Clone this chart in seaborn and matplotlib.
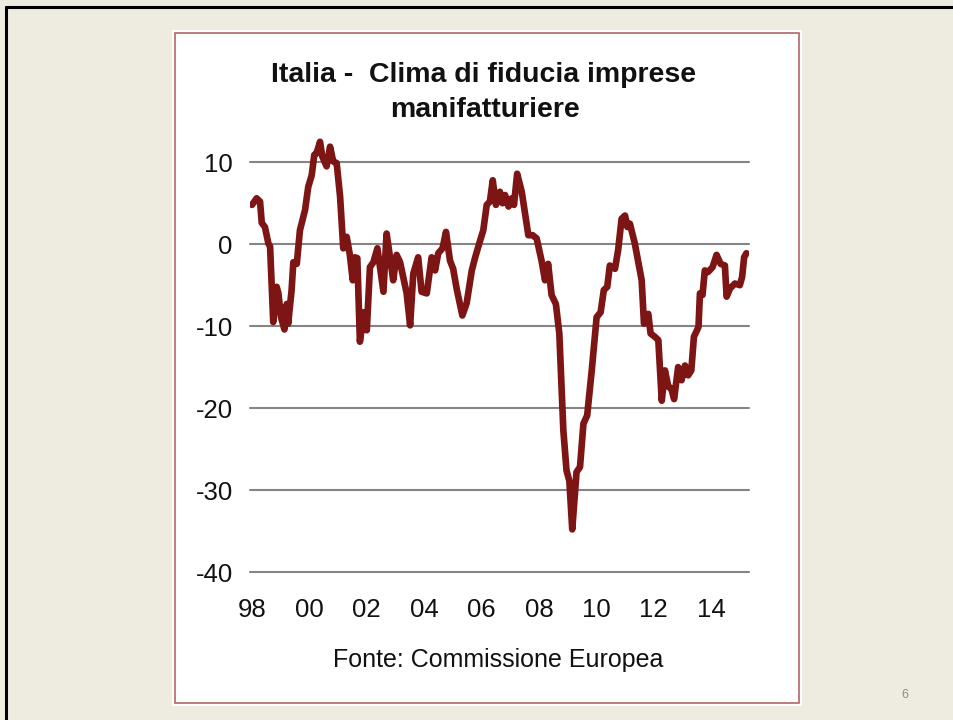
import matplotlib
matplotlib.use("Agg")
import matplotlib.pyplot as plt
import seaborn as sns
from matplotlib.patches import Rectangle
from matplotlib.lines import Line2D

# Clima di fiducia imprese manifatturiere, Italia
anni = [
    1998.00, 1998.16, 1998.28, 1998.34, 1998.45, 1998.57, 1998.63, 1998.74, 1998.86, 1998.92,
    1999.01, 1999.13, 1999.21, 1999.26, 1999.38, 1999.44, 1999.56, 1999.67, 1999.85, 1999.96,
    2000.08, 2000.17, 2000.25, 2000.37, 2000.45, 2000.60, 2000.72, 2000.83, 2000.95, 2001.07,
    2001.18, 2001.30, 2001.41, 2001.51, 2001.59, 2001.67, 2001.76, 2001.90, 2002.00, 2002.11,
    2002.23, 2002.37, 2002.58, 2002.69, 2002.81, 2002.92, 2003.04, 2003.16, 2003.39, 2003.51,
    2003.62, 2003.79, 2003.91, 2004.09, 2004.26, 2004.38, 2004.49, 2004.64, 2004.76, 2004.90,
    2005.01, 2005.13, 2005.33, 2005.48, 2005.66, 2005.77, 2005.92, 2006.06, 2006.18, 2006.29,
    2006.39, 2006.50, 2006.64, 2006.73, 2006.82, 2006.94, 2007.05, 2007.13, 2007.24, 2007.40,
    2007.51, 2007.63, 2007.78, 2007.92, 2008.09, 2008.21, 2008.32, 2008.44, 2008.59, 2008.71,
    2008.85, 2008.96, 2009.06, 2009.16, 2009.31, 2009.43, 2009.55, 2009.68, 2009.84, 2010.01,
    2010.15, 2010.26, 2010.38, 2010.47, 2010.65, 2010.76, 2010.88, 2011.00, 2011.08, 2011.17,
    2011.34, 2011.58, 2011.66, 2011.81, 2011.89, 2012.04, 2012.16, 2012.28, 2012.39, 2012.51,
    2012.61, 2012.71, 2012.85, 2012.97, 2013.09, 2013.20, 2013.31, 2013.40, 2013.56, 2013.61,
    2013.70, 2013.78, 2013.89, 2014.05, 2014.19, 2014.33, 2014.48, 2014.54, 2014.66, 2014.83,
    2015.00, 2015.08, 2015.15, 2015.23,
]
clima = [
    4.8, 5.6, 5.2, 2.6, 2.1, 0.1, -0.3, -9.5, -5.2, -6.0,
    -8.9, -10.4, -7.3, -9.7, -5.6, -2.2, -2.4, 1.7, 4.2, 7.0,
    8.4, 10.9, 11.1, 12.5, 10.7, 9.5, 11.9, 10.1, 9.9, 5.8,
    -0.5, 0.9, -1.3, -4.4, -1.6, -1.7, -11.9, -8.3, -10.5, -2.8,
    -2.2, -0.5, -5.8, 1.3, -1.6, -4.4, -1.3, -2.2, -6.0, -9.9,
    -3.6, -1.6, -5.8, -6.0, -1.6, -3.2, -1.1, -0.5, 1.5, -2.0,
    -3.0, -5.4, -8.7, -7.2, -3.2, -1.7, 0.1, 1.7, 4.8, 5.2,
    7.8, 4.8, 6.4, 5.0, 6.0, 4.6, 5.6, 4.8, 8.6, 6.4,
    3.9, 1.1, 1.1, 0.7, -2.0, -4.4, -2.4, -6.2, -7.3, -10.9,
    -22.7, -27.6, -28.9, -34.8, -27.8, -27.2, -21.9, -20.9, -15.4, -8.9,
    -8.3, -5.6, -5.2, -2.6, -3.0, -0.7, 3.1, 3.5, 2.1, 2.5,
    0.1, -4.4, -9.7, -8.5, -10.9, -11.3, -11.7, -19.1, -15.4, -17.4,
    -17.6, -18.9, -15.0, -16.6, -14.8, -16.0, -15.4, -11.3, -10.1, -6.0,
    -6.2, -3.2, -3.4, -2.8, -1.3, -2.4, -2.6, -6.4, -5.4, -4.8,
    -5.0, -4.0, -1.6, -1.1,
]
tick_anni = [1998, 2000, 2002, 2004, 2006, 2008, 2010, 2012, 2014]
tick_etichette = ["98", "00", "02", "04", "06", "08", "10", "12", "14"]
y_ticks = [10, 0, -10, -20, -30, -40]

W, H = 954, 720
sns.set_theme(style="white")
plt.rcParams["font.family"] = ["Liberation Sans", "DejaVu Sans"]

fig = plt.figure(figsize=(W / 100, H / 100), dpi=100)
fig.patch.set_facecolor("#EEECE1")


def fx(px):
    return px / W


def fy(py):
    return 1 - py / H


# slide border (top + left)
fig.add_artist(Line2D([fx(6), fx(6)], [0, fy(7)], color="black", lw=2.2, zorder=-4))
fig.add_artist(Line2D([fx(6), 1], [fy(7), fy(7)], color="black", lw=2.2, zorder=-4))

# white chart panel with thin red frame
fig.add_artist(Rectangle((fx(172), fy(706)), fx(802) - fx(172), fy(30) - fy(706),
                         facecolor="white", edgecolor="none", zorder=-3))
fig.add_artist(Rectangle((fx(175), fy(703)), fx(799) - fx(175), fy(33) - fy(703),
                         facecolor="none", edgecolor="#B06666", lw=1.2, zorder=-2))

ymax = 14
top_px = 244 - 8.18 * ymax
ax = fig.add_axes([fx(250), fy(572), fx(749) - fx(250), fy(top_px) - fy(572)])
ax.set_facecolor("none")

sns.lineplot(x=anni, y=clima, ax=ax, color="#7E1515", linewidth=4.8,
             estimator=None, solid_joinstyle="round", solid_capstyle="round")

ax.set_xlim(1997.93, 2015.32)
ax.set_ylim(-40, ymax)
ax.set_yticks(y_ticks)
ax.set_yticklabels([str(v) for v in y_ticks])
ax.set_xticks(tick_anni)
ax.set_xticklabels(tick_etichette)
ax.tick_params(axis="y", length=0, pad=12.5, labelsize=18.5, labelcolor="#111111")
ax.tick_params(axis="x", length=0, pad=18.5, labelsize=18.5, labelcolor="#111111")
ax.yaxis.grid(True, color="#858585", linewidth=1.5)
ax.xaxis.grid(False)
ax.set_axisbelow(True)
for g in ax.get_ygridlines():
    g.set_clip_on(False)
for s in ax.spines.values():
    s.set_visible(False)
ax.set_xlabel("")
ax.set_ylabel("")

fig.text(fx(484), fy(82), "Italia -  Clima di fiducia imprese", ha="center", va="baseline",
         fontsize=20.5, fontweight="bold", color="#111111")
fig.text(fx(485), fy(117), "manifatturiere", ha="center", va="baseline",
         fontsize=20.5, fontweight="bold", color="#111111")
fig.text(fx(498), fy(667), "Fonte: Commissione Europea", ha="center", va="baseline",
         fontsize=18, color="#111111")
fig.text(fx(905), fy(695), "6", ha="center", va="center", fontsize=9, color="#8C8C8C")

fig.savefig("out.png", dpi=100, facecolor=fig.get_facecolor())
